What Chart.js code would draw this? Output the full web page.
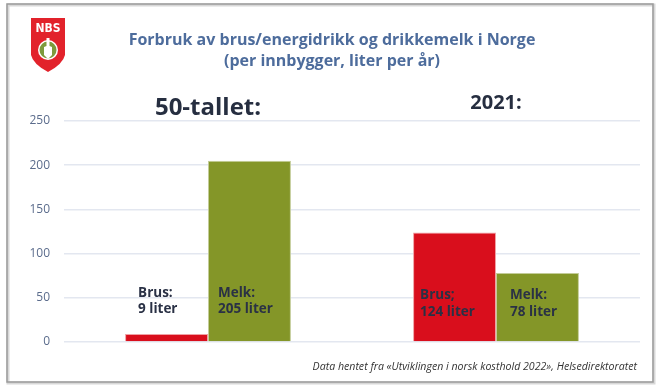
<!DOCTYPE html>
<html>
<head>
<meta charset="utf-8">
<script src="https://cdn.jsdelivr.net/npm/chart.js@4/dist/chart.umd.min.js"></script>
<style>
  html, body { margin: 0; padding: 0; background: #fff; }
  #wrap { position: relative; width: 658px; height: 388px; }
</style>
</head>
<body>
<div id="wrap"><canvas id="chart" width="658" height="388"></canvas></div>
<script>
// data
const periods = ['50-tallet:', '2021:'];
const brus = [9, 124];
const melk = [205, 78];
const brusLabels = [['Brus:', '9 liter'], ['Brus;', '124 liter']];
const melkLabels = [['Melk:', '205 liter'], ['Melk:', '78 liter']];
const yTicks = [0, 50, 100, 150, 200, 250];

const FONT = "'Open Sans', sans-serif";

// frame, logo, headings and bar texts
const decor = {
  id: 'decor',
  beforeDraw(chart) {
    const c = chart.ctx;
    c.save();
    c.fillStyle = '#fff';
    c.fillRect(0, 0, chart.width, chart.height);
    c.strokeStyle = '#d8d8d8';
    c.lineWidth = 3;
    c.strokeRect(8, 5, 646, 378);
    c.strokeStyle = '#9a9a9a';
    c.lineWidth = 1.5;
    c.strokeRect(7, 4, 646, 378);

    // logo
    c.fillStyle = '#e2222b';
    c.beginPath();
    c.moveTo(31, 18);
    c.lineTo(65, 18);
    c.lineTo(65, 55);
    c.quadraticCurveTo(63, 64, 48, 72);
    c.quadraticCurveTo(33, 64, 31, 55);
    c.closePath();
    c.fill();
    c.fillStyle = '#fff';
    c.font = "bold 12px 'DejaVu Sans Condensed', sans-serif";
    c.textAlign = 'center';
    c.textBaseline = 'middle';
    c.fillText('NBS', 48, 29);
    c.beginPath();
    c.arc(48, 50, 10, 0, Math.PI * 2);
    c.fill();
    c.fillStyle = '#7d9a3c';
    c.beginPath();
    c.arc(48, 50, 8.5, 0, Math.PI * 2);
    c.fill();
    c.fillStyle = '#fff';
    c.beginPath();
    c.moveTo(46.5, 38);
    c.lineTo(49.5, 38);
    c.lineTo(49.5, 46);
    c.lineTo(52, 47);
    c.lineTo(52, 55);
    c.lineTo(48, 59);
    c.lineTo(44, 55);
    c.lineTo(44, 47);
    c.lineTo(46.5, 46);
    c.closePath();
    c.fill();

    // title
    c.fillStyle = '#4d6c9c';
    c.font = 'bold 16px ' + FONT;
    c.fillText('Forbruk av brus/energidrikk og drikkemelk i Norge', 332, 40);
    c.fillText('(per innbygger, liter per år)', 332, 61);

    // footer
    c.fillStyle = '#333';
    c.font = 'italic 10.6px ' + FONT;
    c.textAlign = 'right';
    c.fillText('Data hentet fra «Utviklingen i norsk kosthold 2022», Helsedirektoratet', 637, 367);
    c.restore();
  },
  afterDatasetsDraw(chart) {
    const c = chart.ctx;
    const x = chart.scales.x;
    const y = chart.scales.y;
    c.save();
    c.fillStyle = '#262e40';
    c.textAlign = 'center';
    c.textBaseline = 'middle';
    c.font = 'bold 24px ' + FONT;
    c.fillText(periods[0], x.getPixelForValue(0), 108);
    c.font = 'bold 20px ' + FONT;
    c.fillText(periods[1], x.getPixelForValue(1), 103);

    c.font = 'bold 13.5px ' + FONT;
    c.fillStyle = '#2a3145';
    c.textAlign = 'left';
    const m0 = chart.getDatasetMeta(0).data;
    const m1 = chart.getDatasetMeta(1).data;
    const offs = [[13, 10], [7, 14]];
    const ys = [[55.5, 37], [53, 34]];
    for (let i = 0; i < periods.length; i++) {
      const b = m0[i], g = m1[i];
      const bl = b.x - b.width / 2, gl = g.x - g.width / 2;
      c.fillText(brusLabels[i][0], bl + offs[i][0], y.getPixelForValue(ys[i][0]));
      c.fillText(brusLabels[i][1], bl + offs[i][0], y.getPixelForValue(ys[i][1]));
      c.fillText(melkLabels[i][0], gl + offs[i][1], y.getPixelForValue(ys[i][0]));
      c.fillText(melkLabels[i][1], gl + offs[i][1], y.getPixelForValue(ys[i][1]));
    }
    c.restore();
  }
};

new Chart(document.getElementById('chart'), {
  type: 'bar',
  data: {
    labels: periods,
    datasets: [
      {
        label: 'Brus',
        data: brus,
        backgroundColor: '#d90e1c',
        borderColor: '#f0a0a4',
        borderWidth: 1
      },
      {
        label: 'Melk',
        data: melk,
        backgroundColor: '#849628',
        borderColor: '#c3cc98',
        borderWidth: 1
      }
    ]
  },
  options: {
    responsive: false,
    animation: false,
    layout: { padding: { top: 121, right: 18, bottom: 46, left: 0 } },
    plugins: {
      legend: { display: false },
      title: { display: false },
      tooltip: { enabled: false }
    },
    datasets: {
      bar: { barPercentage: 1, categoryPercentage: 0.576 }
    },
    scales: {
      x: { display: false },
      y: {
        min: 0,
        max: 250,
        afterFit(scale) { scale.width = 64; },
        afterBuildTicks(scale) { scale.ticks = yTicks.map(v => ({ value: v })); },
        border: { display: false },
        grid: { color: '#e3e7f0', lineWidth: 1.5, drawTicks: false },
        ticks: {
          padding: 14,
          color: '#5b6c8c',
          font: { family: FONT, size: 12 }
        }
      }
    }
  },
  plugins: [decor]
});
</script>
</body>
</html>
